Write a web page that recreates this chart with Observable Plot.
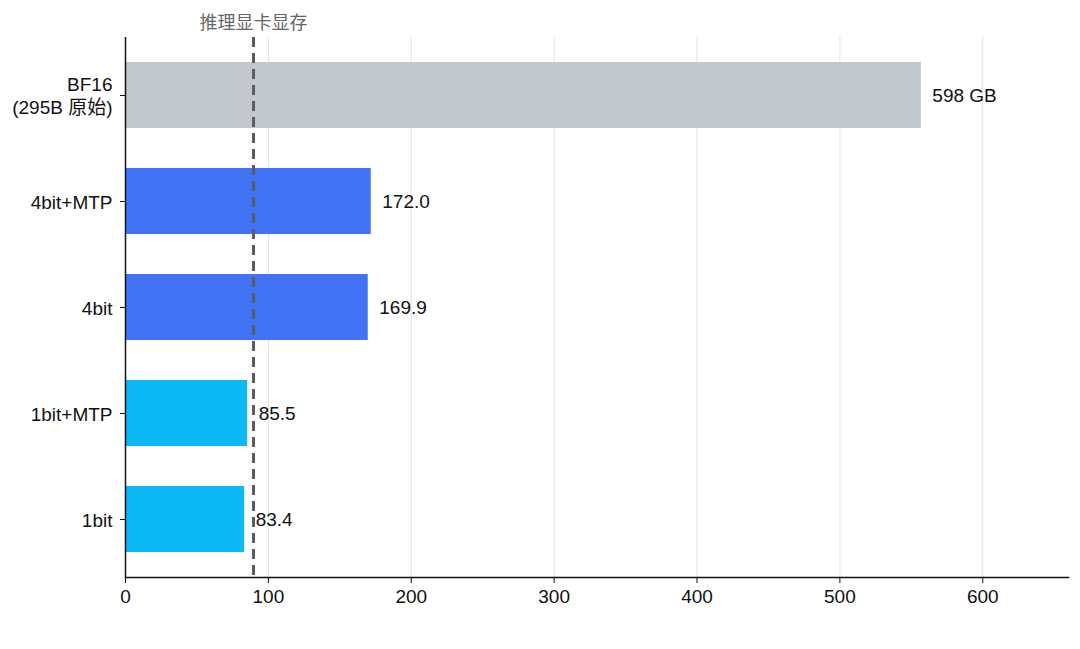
<!DOCTYPE html>
<html>
<head>
<meta charset="utf-8">
<script src="https://cdn.jsdelivr.net/npm/d3@7"></script>
<script src="https://cdn.jsdelivr.net/npm/@observablehq/plot@0.6"></script>
<style>
  html, body { margin: 0; padding: 0; background: #fff; }
  svg { font-family: "Liberation Sans", Arial, "Noto Sans CJK SC", sans-serif; }
</style>
</head>
<body>
<div id="chart"></div>
<script>
const categories = ["BF16\n(295B 原始)", "4bit+MTP", "4bit", "1bit+MTP", "1bit"];
const values = [557, 172.0, 169.9, 85.5, 83.4];
const valueLabels = ["598 GB", "172.0", "169.9", "85.5", "83.4"];
const groups = ["base", "4bit", "4bit", "1bit", "1bit"];
const groupColors = {base: "#c3c8ce", "4bit": "#4272f6", "1bit": "#0db8f7"};
const xTicks = [0, 100, 200, 300, 400, 500, 600];
const gpuMemory = 89.6;
const gpuMemoryLabel = "推理显卡显存";

const data = categories.map((c, i) => ({category: c, value: values[i], label: valueLabels[i], group: groups[i]}));

const chart = Plot.plot({
  width: 1080,
  height: 649,
  marginLeft: 125,
  marginRight: 12,
  marginTop: 37,
  marginBottom: 72,
  style: {fontFamily: "'Liberation Sans', Arial, 'Noto Sans CJK SC', sans-serif", fontSize: "19px", color: "#111"},
  x: {domain: [0, 660], ticks: xTicks, label: null},
  y: {domain: categories, paddingInner: 0.38, paddingOuter: 0.23, label: null},
  marks: [
    Plot.gridX(xTicks.filter(d => d > 0), {stroke: "#e3e3e3", strokeOpacity: 1, strokeWidth: 1}),
    Plot.barX(data, {x: "value", y: "category", fill: d => groupColors[d.group]}),
    Plot.ruleX([gpuMemory], {stroke: "#5b5d61", strokeWidth: 3, strokeDasharray: "10,6"}),
    Plot.text([gpuMemoryLabel], {x: () => gpuMemory, frameAnchor: "top", dy: -21, fill: "#666", fontSize: 18, fontFamily: "'Noto Sans CJK SC', sans-serif"}),
    Plot.text(data, {x: "value", y: "category", text: "label", textAnchor: "start", dx: 11, fill: "#111", fontSize: 19}),
    Plot.axisX({ticks: xTicks, tickSize: 6, tickPadding: 6, fontSize: 19, stroke: "#111", fill: "#111", label: null}),
    Plot.axisY({tickSize: 5, tickPadding: 8, fontSize: 19, lineHeight: 1.2, fill: "#111", stroke: "#111", label: null}),
    Plot.ruleX([0], {stroke: "#111", strokeWidth: 1.5}),
    Plot.frame({anchor: "bottom", stroke: "#111", strokeWidth: 1.5})
  ]
});
document.getElementById("chart").appendChild(chart);
</script>
</body>
</html>
